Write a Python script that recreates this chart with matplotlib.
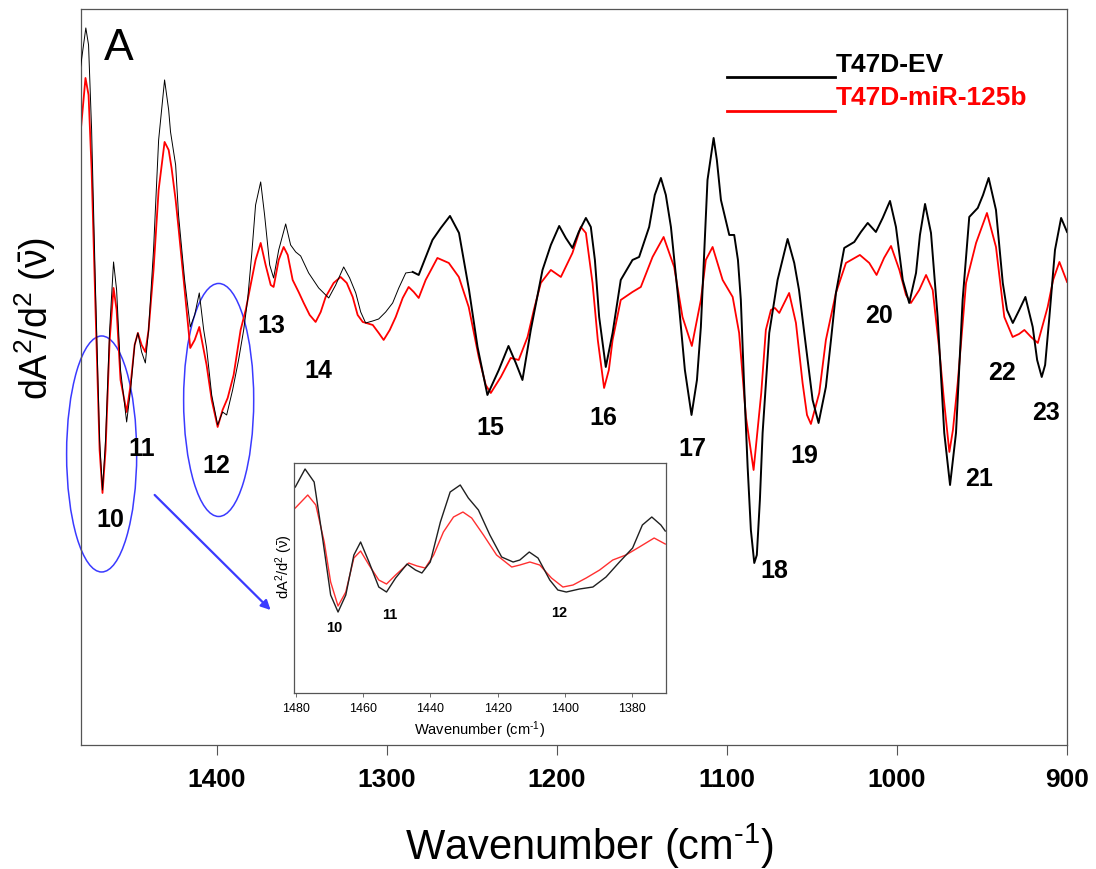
import matplotlib
matplotlib.use("Agg")
import matplotlib.pyplot as plt
from matplotlib.patches import Ellipse
import numpy as np

plt.rcParams['font.family'] = ['Liberation Sans', 'DejaVu Sans']
plt.rcParams['mathtext.fontset'] = 'custom'
plt.rcParams['mathtext.rm'] = 'Liberation Sans'
plt.rcParams['mathtext.it'] = 'Liberation Sans:italic'
plt.rcParams['mathtext.bf'] = 'Liberation Sans:bold'

# ---------------- main spectra (second derivative, a.u.) ----------------
ev_wn = [1480, 1476.9, 1475.3, 1473.5, 1471.2, 1468.8, 1467.1, 1465.3, 1462.9, 1460.6,
         1458.8, 1456.5, 1452.9, 1450.6, 1448.2, 1446.3, 1444.1, 1441.9, 1440.0, 1437.1,
         1434.1, 1430.6, 1428.2, 1427.1, 1424.1, 1422.4, 1418.8, 1415.5, 1412.9, 1410.2,
         1407.6, 1405.9, 1402.9, 1399.4, 1396.5, 1394.1, 1390.6, 1387.1, 1384.1, 1381.8,
         1379.4, 1377.1, 1374.1, 1371.8, 1368.8, 1366.5, 1363.5, 1359.4, 1356.5, 1353.5,
         1350.6, 1345.9, 1340.0, 1334.1, 1330.0, 1325.3, 1321.8, 1318.2, 1315.3, 1312.4,
         1308.2, 1304.7, 1300.6, 1296.5, 1292.9, 1288.8, 1284.7, 1281.2, 1273.1, 1268.2,
         1262.8, 1257.5, 1251.6, 1246.6, 1240.8, 1234.1, 1228.4, 1224.1, 1220.2, 1215.3,
         1208.4, 1203.5, 1198.6, 1194.7, 1190.8, 1187.1, 1182.9, 1180.0, 1177.6, 1175.1,
         1171.2, 1167.2, 1162.4, 1155.5, 1151.6, 1145.7, 1142.4, 1138.8, 1135.9, 1132.9,
         1128.1, 1124.7, 1120.8, 1117.6, 1115.3, 1111.4, 1107.8, 1105.9, 1103.5, 1098.6,
         1095.7, 1093.5, 1091.8, 1090.0, 1087.8, 1085.9, 1083.9, 1082.4, 1080.6, 1079.0,
         1075.1, 1070.2, 1064.3, 1060.4, 1057.6, 1054.5, 1049.6, 1046.1, 1041.8, 1038.8,
         1035.9, 1031.0, 1025.1, 1021.2, 1017.2, 1012.4, 1008.4, 1004.1, 1000.6, 996.6,
         992.8, 988.8, 986.5, 983.5, 980.0, 976.1, 972.2, 968.8, 965.3, 961.4,
         957.5, 952.5, 949.4, 946.1, 941.8, 937.8, 935.3, 931.9, 928.1, 924.5,
         920.2, 917.6, 914.9, 912.9, 910.4, 907.1, 903.5, 900.0]
ev_val = [3.33, 3.72, 3.55, 2.70, 1.10, -0.40, -0.90, -0.40, 0.70, 1.38,
          1.10, 0.30, -0.22, 0.10, 0.55, 0.67, 0.48, 0.37, 0.70, 1.50,
          2.60, 3.20, 2.90, 2.68, 2.35, 1.85, 1.20, 0.73, 0.85, 1.07,
          0.70, 0.52, 0.05, -0.25, -0.12, -0.15, 0.10, 0.40, 0.70, 1.00,
          1.45, 1.95, 2.18, 1.85, 1.35, 1.22, 1.50, 1.76, 1.55, 1.48,
          1.44, 1.27, 1.12, 1.02, 1.15, 1.33, 1.22, 1.07, 0.88, 0.77,
          0.79, 0.81, 0.88, 0.97, 1.12, 1.27, 1.28, 1.25, 1.60, 1.72,
          1.84, 1.67, 1.10, 0.53, 0.05, 0.30, 0.54, 0.37, 0.20, 0.70,
          1.30, 1.55, 1.74, 1.62, 1.52, 1.68, 1.82, 1.73, 1.40, 0.83,
          0.33, 0.67, 1.20, 1.40, 1.43, 1.73, 2.05, 2.22, 2.05, 1.73,
          0.93, 0.30, -0.15, 0.20, 0.73, 2.20, 2.62, 2.40, 2.00, 1.65,
          1.65, 1.40, 1.00, 0.20, -0.67, -1.30, -1.63, -1.55, -1.00, -0.33,
          0.67, 1.20, 1.61, 1.37, 1.10, 0.67, 0.00, -0.23, 0.13, 0.60,
          1.07, 1.52, 1.58, 1.68, 1.77, 1.68, 1.82, 1.99, 1.73, 1.20,
          0.97, 1.27, 1.65, 1.96, 1.67, 0.83, -0.33, -0.85, -0.33, 1.00,
          1.83, 1.92, 2.05, 2.22, 1.90, 1.17, 0.90, 0.77, 0.90, 1.03,
          0.73, 0.40, 0.23, 0.35, 0.83, 1.50, 1.82, 1.68]

mir_wn = [1480, 1477.1, 1475.3, 1473.5, 1471.2, 1468.8, 1467.1, 1465.3, 1462.9, 1460.6,
          1458.8, 1456.5, 1452.9, 1450.6, 1448.2, 1446.3, 1444.1, 1441.9, 1440.0, 1437.1,
          1434.1, 1430.6, 1428.2, 1426.5, 1424.1, 1422.4, 1418.8, 1415.5, 1412.9, 1410.2,
          1407.6, 1405.9, 1402.9, 1399.4, 1396.5, 1393.5, 1390.0, 1385.9, 1382.9, 1380.0,
          1377.1, 1374.1, 1371.2, 1368.2, 1366.5, 1363.5, 1360.6, 1358.2, 1355.3, 1351.8,
          1348.8, 1345.3, 1341.8, 1338.8, 1335.9, 1331.2, 1327.1, 1323.5, 1320.0, 1317.1,
          1314.1, 1308.2, 1304.7, 1301.8, 1298.2, 1294.7, 1290.6, 1287.1, 1284.1, 1281.2,
          1277.1, 1270.2, 1263.5, 1257.6, 1251.8, 1245.9, 1241.8, 1238.8, 1232.9, 1227.1,
          1222.4, 1217.2, 1213.5, 1209.4, 1203.5, 1197.6, 1190.8, 1185.9, 1182.9, 1179.0,
          1175.9, 1172.2, 1169.4, 1167.2, 1162.4, 1155.5, 1150.6, 1143.7, 1137.2, 1131.0,
          1126.1, 1120.6, 1115.3, 1112.4, 1108.4, 1102.5, 1096.6, 1092.8, 1088.8, 1084.3,
          1079.8, 1077.1, 1074.1, 1071.8, 1069.2, 1063.4, 1059.4, 1055.5, 1052.9, 1050.6,
          1045.7, 1041.8, 1035.9, 1030.0, 1021.8, 1016.3, 1012.0, 1007.6, 1003.5, 998.6,
          994.7, 991.8, 986.9, 982.9, 979.0, 975.1, 972.4, 969.2, 967.1, 964.3,
          959.4, 953.5, 947.1, 941.8, 936.9, 932.0, 928.2, 925.1, 921.2, 917.2,
          911.4, 908.2, 904.5, 900.0]
mir_val = [2.67, 3.22, 3.05, 2.30, 0.90, -0.50, -0.93, -0.50, 0.60, 1.12,
           0.90, 0.20, -0.12, 0.15, 0.55, 0.67, 0.55, 0.48, 0.70, 1.30,
           2.10, 2.58, 2.50, 2.32, 2.00, 1.72, 1.10, 0.52, 0.60, 0.73,
           0.50, 0.35, 0.00, -0.27, -0.10, 0.02, 0.25, 0.70, 0.90, 1.15,
           1.40, 1.57, 1.35, 1.15, 1.13, 1.40, 1.53, 1.45, 1.20, 1.08,
           0.97, 0.85, 0.78, 0.88, 1.03, 1.17, 1.23, 1.17, 1.03, 0.85,
           0.78, 0.75, 0.67, 0.60, 0.70, 0.83, 1.02, 1.13, 1.08, 1.02,
           1.20, 1.42, 1.37, 1.23, 0.93, 0.43, 0.15, 0.07, 0.23, 0.42,
           0.40, 0.63, 0.90, 1.17, 1.30, 1.23, 1.47, 1.73, 1.67, 1.17,
           0.60, 0.12, 0.30, 0.60, 1.00, 1.08, 1.13, 1.43, 1.63, 1.33,
           0.83, 0.54, 1.00, 1.40, 1.53, 1.20, 1.03, 0.67, -0.17, -0.70,
           0.07, 0.70, 0.90, 0.92, 0.87, 1.07, 0.77, 0.17, -0.15, -0.24,
           0.07, 0.60, 1.07, 1.37, 1.45, 1.37, 1.25, 1.42, 1.54, 1.30,
           1.05, 0.97, 1.10, 1.25, 1.10, 0.50, 0.00, -0.52, -0.30, 0.17,
           1.17, 1.57, 1.87, 1.53, 0.83, 0.63, 0.66, 0.70, 0.63, 0.57,
           0.93, 1.20, 1.38, 1.18]

# ---------------- inset spectra (1480-1370 cm-1) ----------------
in_ev_wn = [1480.1, 1477.2, 1474.5, 1472.0, 1469.6, 1467.4, 1465.1, 1462.7, 1460.7, 1458.2,
            1455.3, 1453.0, 1450.3, 1446.9, 1444.4, 1442.5, 1440.0, 1437.0, 1434.1, 1431.1,
            1428.7, 1425.7, 1422.3, 1418.8, 1415.4, 1413.4, 1410.6, 1408.0, 1404.5, 1402.1,
            1399.6, 1395.7, 1391.7, 1387.8, 1383.8, 1379.9, 1377.0, 1374.2, 1371.5, 1370.2]
in_ev_val = [1.13, 1.31, 1.18, 0.62, 0.05, -0.12, 0.05, 0.45, 0.58, 0.38,
             0.13, 0.08, 0.22, 0.36, 0.30, 0.27, 0.38, 0.78, 1.08, 1.15,
             1.02, 0.90, 0.65, 0.43, 0.38, 0.40, 0.48, 0.42, 0.20, 0.10,
             0.08, 0.11, 0.13, 0.23, 0.38, 0.52, 0.75, 0.83, 0.75, 0.69]
in_mir_wn = [1480.1, 1476.4, 1474.0, 1471.5, 1469.6, 1467.4, 1465.1, 1462.7, 1460.7, 1458.2,
             1455.3, 1453.0, 1450.3, 1446.4, 1443.9, 1441.5, 1439.0, 1436.1, 1433.1, 1430.3,
             1427.7, 1424.2, 1420.3, 1415.8, 1413.4, 1410.4, 1407.5, 1404.0, 1400.6, 1397.6,
             1393.7, 1389.7, 1385.8, 1381.9, 1377.9, 1373.5, 1370.2]
in_mir_val = [0.92, 1.05, 0.95, 0.58, 0.18, -0.06, 0.08, 0.42, 0.49, 0.35,
              0.20, 0.16, 0.25, 0.37, 0.34, 0.32, 0.45, 0.68, 0.83, 0.88,
              0.82, 0.65, 0.45, 0.33, 0.35, 0.38, 0.35, 0.22, 0.13, 0.15,
              0.22, 0.30, 0.40, 0.45, 0.53, 0.62, 0.56]

main_ticks = [1400, 1300, 1200, 1100, 1000, 900]
inset_ticks = [1480, 1460, 1440, 1420, 1400, 1380]
band_labels = ["10", "11", "12", "13", "14", "15", "16", "17", "18", "19", "20", "21", "22", "23"]
inset_band_labels = ["10", "11", "12"]
series_names = ["T47D-EV", "T47D-miR-125b"]

XLABEL = r'Wavenumber (cm$^{\text{-1}}$)'
YLABEL = r'dA$^{\mathregular{2}}$/d$^{\mathregular{2}}$ ($\bar{\mathrm{\nu}}$)'

# ---------------- figure ----------------
fig = plt.figure(figsize=(10.96, 8.69), dpi=100)
ax = fig.add_axes([0.0735, 0.1427, 0.9001, 0.847])

ev_wn_a = np.array(ev_wn)
ev_val_a = np.array(ev_val)
thin = ev_wn_a >= 1284.7
thick = ev_wn_a <= 1284.7
ax.plot(mir_wn, mir_val, color='#ff0000', lw=1.3, zorder=2, solid_joinstyle='round')
ax.plot(ev_wn_a[thin], ev_val_a[thin], color='black', lw=0.7, zorder=3, solid_joinstyle='round')
ax.plot(ev_wn_a[thick], ev_val_a[thick], color='black', lw=1.4, zorder=3, solid_joinstyle='round')

ax.set_xlim(1480, 900)
ax.set_ylim(-3.45, 3.91)
ax.set_xticks(main_ticks)
ax.set_xticklabels([str(t) for t in main_ticks], fontsize=19, fontweight='bold')
ax.set_yticks([])
ax.tick_params(axis='x', direction='out', length=7.5, width=0.8, color='#555555', pad=9)
for s in ax.spines.values():
    s.set_color('#555555')
    s.set_linewidth(0.9)

ax.set_xlabel(XLABEL, fontsize=30, va='baseline')
ax.xaxis.set_label_coords(0.516, -0.1563)
ax.set_ylabel(YLABEL, fontsize=27, ha='center', va='center', rotation_mode='default')
ax.yaxis.set_label_coords(-0.046, 0.58)

ax.text(0.039, 0.9457, 'A', transform=ax.transAxes, fontsize=32, ha='center', va='center')

# band labels
band_pos = [(1462.4, -1.20), (1444.1, -0.49), (1400.0, -0.66), (1367.6, 0.74), (1340.0, 0.29),
            (1238.8, -0.28), (1172.4, -0.18), (1120.0, -0.49), (1072.4, -1.71), (1054.7, -0.56),
            (1010.6, 0.84), (951.8, -0.79), (938.2, 0.27), (912.4, -0.13)]
for lab, (x, y) in zip(band_labels, band_pos):
    ax.text(x, y, lab, fontsize=18, fontweight='bold', ha='center', va='center')

# ellipses and arrow
blue = '#3a3aff'
ax.add_patch(Ellipse((1467.6, -0.54), 41.2, 2.36, fill=False, edgecolor=blue, lw=1.1, clip_on=False))
ax.add_patch(Ellipse((1398.8, 0.0), 41.2, 2.33, fill=False, edgecolor=blue, lw=1.1, clip_on=False))
ax.annotate('', xy=(1367.1, -2.12), xytext=(1437.6, -0.93),
            arrowprops=dict(arrowstyle='-|>', color=blue, lw=1.6, mutation_scale=14))

# legend (manual, as in the original)
ax.plot([0.6555, 0.765], [0.9076, 0.9076], transform=ax.transAxes, color='black', lw=2.0, clip_on=False)
ax.plot([0.6555, 0.765], [0.8614, 0.8614], transform=ax.transAxes, color='#ff0000', lw=2.0, clip_on=False)
ax.text(0.766, 0.915, series_names[0], transform=ax.transAxes, fontsize=19, fontweight='bold',
        color='black', ha='left', va='baseline')
ax.text(0.766, 0.869, series_names[1], transform=ax.transAxes, fontsize=19, fontweight='bold',
        color='#ff0000', ha='left', va='baseline')

# ---------------- inset ----------------
ins = fig.add_axes([0.2682, 0.2025, 0.3394, 0.2647])
ins.plot(in_mir_wn, in_mir_val, color='#ff3030', lw=1.0, solid_joinstyle='round')
ins.plot(in_ev_wn, in_ev_val, color='#202020', lw=1.0, solid_joinstyle='round')
ins.set_xlim(1480.5, 1370)
ins.set_ylim(-0.93, 1.37)
ins.set_xticks(inset_ticks)
ins.set_xticklabels([str(t) for t in inset_ticks], fontsize=9)
ins.set_yticks([])
ins.tick_params(axis='x', direction='out', length=3, width=0.6, color='#555555', pad=4)
for s in ins.spines.values():
    s.set_color('#555555')
    s.set_linewidth(0.9)
ins.set_xlabel(XLABEL, fontsize=10.5, labelpad=3)
ins.set_ylabel(YLABEL, fontsize=10.5, ha='center', va='center', rotation_mode='default')
ins.yaxis.set_label_coords(-0.025, 0.55)
inset_pos = [(1468.4, -0.28), (1452.0, -0.15), (1401.6, -0.13)]
for lab, (x, y) in zip(inset_band_labels, inset_pos):
    ins.text(x, y, lab, fontsize=10.5, fontweight='bold', ha='center', va='center')

fig.savefig('out.png', dpi=100)
